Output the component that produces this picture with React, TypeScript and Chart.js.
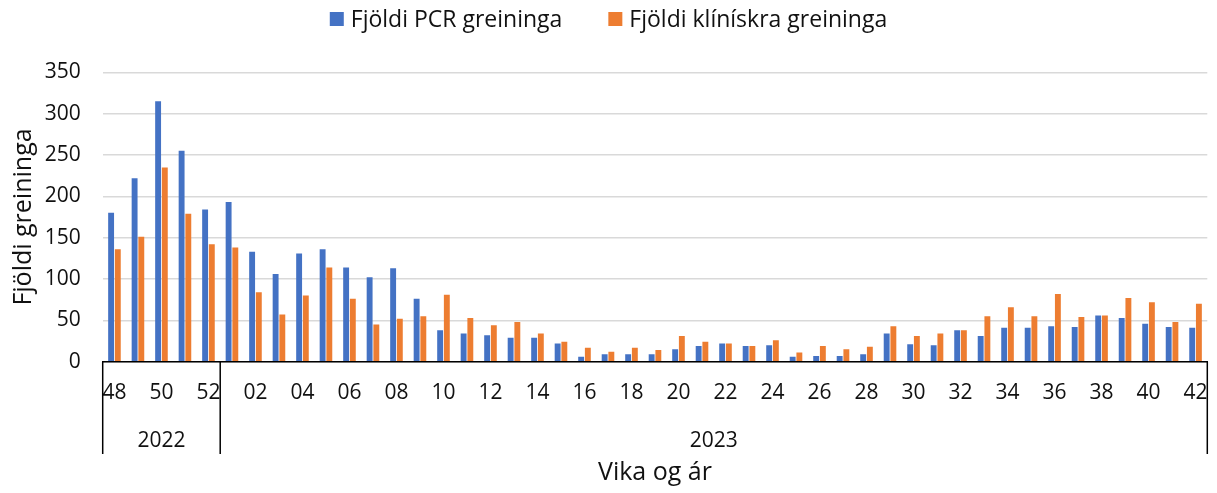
import React, { useEffect, useRef } from 'react';
import { Chart, registerables } from 'chart.js';

Chart.register(...registerables);

const weeks2022 = ['48', '49', '50', '51', '52'];
const weeks2023 = [
  '01', '02', '03', '04', '05', '06', '07', '08', '09', '10',
  '11', '12', '13', '14', '15', '16', '17', '18', '19', '20',
  '21', '22', '23', '24', '25', '26', '27', '28', '29', '30',
  '31', '32', '33', '34', '35', '36', '37', '38', '39', '40',
  '41', '42',
];
const categories = [...weeks2022, ...weeks2023];
const yearGroups = [
  { label: '2022', count: weeks2022.length },
  { label: '2023', count: weeks2023.length },
];

const pcrCounts = [
  180, 222, 315, 255, 184,
  193, 133, 106, 131, 136, 114, 102, 113, 76, 38,
  34, 32, 29, 29, 22, 6, 9, 9, 9, 15,
  19, 22, 19, 20, 6, 7, 7, 9, 34, 21,
  20, 38, 31, 41, 41, 43, 42, 56, 53, 46,
  42, 41,
];
const clinicalCounts = [
  136, 151, 235, 179, 142,
  138, 84, 57, 80, 114, 76, 45, 52, 55, 81,
  53, 44, 48, 34, 24, 17, 12, 17, 14, 31,
  24, 22, 19, 26, 11, 19, 15, 18, 43, 31,
  34, 38, 55, 66, 55, 82, 54, 56, 77, 72,
  48, 70,
];

const seriesNames = ['Fjöldi PCR greininga', 'Fjöldi klínískra greininga'];
const seriesColors = ['#4472C4', '#ED7D31'];
const yMin = 0;
const yMax = 350;
const yStep = 50;
const yTitle = 'Fjöldi greininga';
const xTitle = 'Vika og ár';

const FONT = '"Open Sans", "Noto Sans", sans-serif';
const FS = 21;
const LEGEND_FS = 23;
const TITLE_FS = 25;
const TEXT = '#111111';

const legendPlugin = {
  id: 'customLegend',
  afterDraw(chart: any) {
    const ctx = chart.ctx;
    ctx.save();
    ctx.font = `${LEGEND_FS}px ${FONT}`;
    ctx.textBaseline = 'middle';
    ctx.textAlign = 'left';
    const box = 14;
    const gap = 7;
    const itemGap = 46;
    const widths = seriesNames.map((n) => ctx.measureText(n).width);
    const total = widths.reduce((a, w) => a + box + gap + w, 0) + itemGap * (seriesNames.length - 1);
    let x = chart.width / 2 - total / 2;
    const cy = 19;
    seriesNames.forEach((name, i) => {
      ctx.fillStyle = seriesColors[i];
      ctx.fillRect(x, cy - box / 2, box, box);
      x += box + gap;
      ctx.fillStyle = TEXT;
      ctx.fillText(name, x, cy + 1);
      x += widths[i] + itemGap;
    });
    ctx.restore();
  },
};

const groupPlugin = {
  id: 'yearGroups',
  afterDraw(chart: any) {
    const ctx = chart.ctx;
    const xs = chart.scales.x;
    const area = chart.chartArea;
    const lineBottom = 454;
    ctx.save();
    ctx.strokeStyle = '#000';
    ctx.lineWidth = 1.5;
    ctx.font = `${FS}px ${FONT}`;
    ctx.fillStyle = TEXT;
    ctx.textAlign = 'center';
    ctx.textBaseline = 'middle';
    let start = 0;
    let left = area.left;
    const drawV = (px: number) => {
      ctx.beginPath();
      ctx.moveTo(px, area.bottom);
      ctx.lineTo(px, lineBottom);
      ctx.stroke();
    };
    drawV(left);
    yearGroups.forEach((g, gi) => {
      const end = start + g.count;
      const right = gi === yearGroups.length - 1
        ? area.right
        : (xs.getPixelForValue(end - 1) + xs.getPixelForValue(end)) / 2;
      drawV(right);
      ctx.fillText(g.label, (left + right) / 2, 441);
      left = right;
      start = end;
    });
    ctx.restore();
  },
};

export default function App() {
  const canvasRef = useRef<HTMLCanvasElement | null>(null);

  useEffect(() => {
    document.body.style.margin = '0';
    const canvas = canvasRef.current;
    if (!canvas) return;
    const chart = new Chart(canvas, {
      type: 'bar',
      data: {
        labels: categories,
        datasets: [
          {
            label: seriesNames[0],
            data: pcrCounts,
            backgroundColor: seriesColors[0],
            categoryPercentage: 0.57,
            barPercentage: 0.88,
          },
          {
            label: seriesNames[1],
            data: clinicalCounts,
            backgroundColor: seriesColors[1],
            categoryPercentage: 0.57,
            barPercentage: 0.88,
          },
        ],
      },
      options: {
        responsive: false,
        animation: false,
        layout: { padding: { top: 72.3, right: 9.7, left: 0, bottom: 0 } },
        plugins: {
          legend: { display: false },
          tooltip: { enabled: false },
        },
        scales: {
          x: {
            grid: { display: false, drawTicks: false },
            border: { display: true, color: '#000', width: 1.5 },
            ticks: {
              autoSkip: false,
              maxRotation: 0,
              minRotation: 0,
              padding: 18.5,
              color: TEXT,
              font: { family: FONT, size: FS },
              callback: (_v: any, i: number) => (i % 2 === 0 ? categories[i] : ''),
            },
            title: {
              display: true,
              text: xTitle,
              color: TEXT,
              font: { family: FONT, size: TITLE_FS },
              padding: { top: 0, bottom: 5 },
            },
            afterFit: (scale: any) => {
              scale.height = 131.3;
              scale.paddingLeft = 0;
              scale.paddingRight = 0;
            },
          },
          y: {
            min: yMin,
            max: yMax,
            ticks: {
              stepSize: yStep,
              padding: 22,
              color: TEXT,
              font: { family: FONT, size: FS },
            },
            grid: { color: '#D9D9D9', lineWidth: 1.5, drawTicks: false },
            border: { display: false },
            title: {
              display: true,
              text: yTitle,
              color: TEXT,
              font: { family: FONT, size: TITLE_FS },
              padding: { top: 9, bottom: 0 },
            },
            afterFit: (scale: any) => {
              scale.width = 102.7;
            },
          },
        },
      },
      plugins: [legendPlugin, groupPlugin],
    });
    return () => chart.destroy();
  }, []);

  return (
    <div style={{ position: 'absolute', left: 0, top: 0, width: 1217, height: 493 }}>
      <canvas ref={canvasRef} width={1217} height={493} />
    </div>
  );
}
